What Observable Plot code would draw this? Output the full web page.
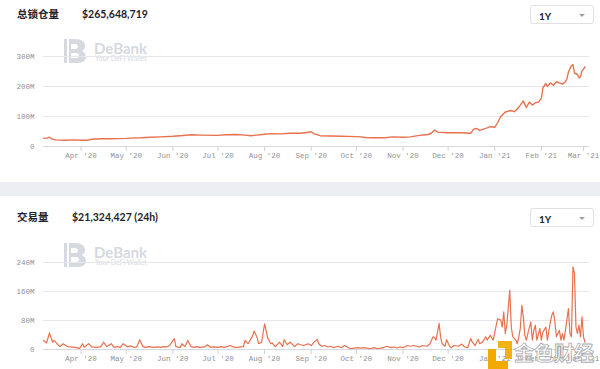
<!DOCTYPE html>
<html>
<head>
<meta charset="utf-8">
<script src="https://cdn.jsdelivr.net/npm/d3@7"></script>
<script src="https://cdn.jsdelivr.net/npm/@observablehq/plot@0.6"></script>
<style>
  html, body { margin: 0; padding: 0; background: #fff; }
  #root { position: relative; width: 600px; height: 369px; overflow: hidden; background: #fff; font-family: Lato, "Noto Sans CJK SC", sans-serif; }
  .abs { position: absolute; }
  .title { font-family: "Noto Sans CJK SC", sans-serif; font-weight: 700; font-size: 10.5px; color: #1f2329; line-height: 1; }
  .value { font-family: Lato, sans-serif; font-weight: 700; font-size: 10.5px; color: #1f2329; line-height: 1; }
  .dropdown { width: 64px; height: 19px; border: 1px solid #dfe1e6; border-radius: 3px; box-sizing: border-box; background: #fff; }
  .dropdown span { position: absolute; left: 8px; top: 4px; font-family: Lato, sans-serif; font-size: 10px; font-weight: 700; color: #222; }
  .caret { position: absolute; right: 8px; top: 8px; width: 0; height: 0; border-left: 3px solid transparent; border-right: 3px solid transparent; border-top: 3px solid #9a9ea6; }
  .band { left: 0; width: 600px; background: #eceef3; }
  .wm-text { font-family: Lato, sans-serif; font-weight: 700; font-size: 15px; color: #d6d9df; line-height: 1; }
  .wm-sub { font-family: Lato, sans-serif; font-size: 7px; color: #d6d9df; line-height: 1; }
  .jinse { font-family: "Noto Sans CJK SC", sans-serif; font-weight: 700; font-size: 20px; color: rgba(255,255,255,0.85); -webkit-text-stroke: 0.8px #a9abb0; line-height: 1; }
</style>
</head>
<body>
<div id="root"></div>
<script>
// ---------------- data ----------------
const tvlDates = ["2020-03-07","2020-03-09","2020-03-11","2020-03-13","2020-03-15","2020-03-21","2020-03-28","2020-04-01","2020-04-05","2020-04-08","2020-04-14","2020-04-21","2020-05-01","2020-05-04","2020-05-11","2020-05-17","2020-05-24","2020-06-01","2020-06-06","2020-06-13","2020-06-19","2020-07-01","2020-07-06","2020-07-13","2020-07-19","2020-07-23","2020-08-01","2020-08-05","2020-08-12","2020-08-18","2020-08-25","2020-08-28","2020-09-01","2020-09-03","2020-09-07","2020-09-14","2020-09-21","2020-10-01","2020-10-04","2020-10-07","2020-10-11","2020-10-20","2020-10-25","2020-11-01","2020-11-06","2020-11-12","2020-11-18","2020-11-20","2020-11-22","2020-11-24","2020-11-30","2020-12-09","2020-12-16","2020-12-18","2020-12-20","2020-12-22","2020-12-27","2020-12-29","2021-01-01","2021-01-03","2021-01-05","2021-01-08","2021-01-12","2021-01-14","2021-01-16","2021-01-18","2021-01-20","2021-01-22","2021-01-24","2021-01-26","2021-01-28","2021-01-30","2021-02-01","2021-02-02","2021-02-04","2021-02-05","2021-02-07","2021-02-09","2021-02-11","2021-02-13","2021-02-15","2021-02-17","2021-02-18","2021-02-19","2021-02-21","2021-02-22","2021-02-23","2021-02-25","2021-02-26","2021-02-27","2021-02-28","2021-03-01","2021-03-02"];
const tvlValues = [28,27,31,24,22,21,22,21,21,24,26,26,27,28,29,31,32,34,36,39,38,37,39,40,38,36,41,43,42,44,44,46,49,42,36,35,34,33,32,30,29,29,32,31,32,37,40,45,55,48,46,46,44,58,60,54,62,66,64,80,100,115,120,116,125,138,152,130,148,138,146,148,160,195,210,200,212,204,216,212,208,216,226,248,270,273,245,240,229,232,252,258,265];

const volDates = ["2020-03-07","2020-03-09","2020-03-11","2020-03-13","2020-03-14","2020-03-16","2020-03-18","2020-03-20","2020-03-23","2020-03-25","2020-03-28","2020-03-31","2020-04-02","2020-04-03","2020-04-06","2020-04-08","2020-04-12","2020-04-14","2020-04-16","2020-04-18","2020-04-21","2020-04-23","2020-04-25","2020-04-27","2020-04-29","2020-05-02","2020-05-04","2020-05-06","2020-05-08","2020-05-10","2020-05-12","2020-05-14","2020-05-16","2020-05-19","2020-05-22","2020-05-24","2020-05-26","2020-05-28","2020-05-30","2020-06-02","2020-06-03","2020-06-06","2020-06-07","2020-06-09","2020-06-11","2020-06-13","2020-06-15","2020-06-17","2020-06-19","2020-06-22","2020-06-24","2020-06-26","2020-06-28","2020-07-01","2020-07-03","2020-07-05","2020-07-07","2020-07-09","2020-07-12","2020-07-14","2020-07-16","2020-07-18","2020-07-19","2020-07-21","2020-07-23","2020-07-24","2020-07-25","2020-07-27","2020-07-28","2020-07-30","2020-08-01","2020-08-03","2020-08-05","2020-08-06","2020-08-08","2020-08-11","2020-08-13","2020-08-14","2020-08-16","2020-08-18","2020-08-21","2020-08-23","2020-08-25","2020-08-27","2020-08-30","2020-09-01","2020-09-03","2020-09-05","2020-09-06","2020-09-08","2020-09-10","2020-09-12","2020-09-14","2020-09-16","2020-09-19","2020-09-21","2020-09-23","2020-09-25","2020-09-27","2020-09-30","2020-10-02","2020-10-04","2020-10-06","2020-10-08","2020-10-10","2020-10-13","2020-10-15","2020-10-17","2020-10-19","2020-10-21","2020-10-24","2020-10-26","2020-10-28","2020-10-30","2020-11-01","2020-11-04","2020-11-06","2020-11-08","2020-11-10","2020-11-12","2020-11-14","2020-11-17","2020-11-19","2020-11-20","2020-11-21","2020-11-22","2020-11-23","2020-11-25","2020-11-26","2020-11-27","2020-11-29","2020-11-30","2020-12-02","2020-12-03","2020-12-05","2020-12-08","2020-12-10","2020-12-12","2020-12-14","2020-12-16","2020-12-17","2020-12-19","2020-12-21","2020-12-22","2020-12-24","2020-12-26","2020-12-27","2020-12-29","2020-12-31","2021-01-02","2021-01-03","2021-01-05","2021-01-06","2021-01-07","2021-01-08","2021-01-09","2021-01-11","2021-01-12","2021-01-13","2021-01-15","2021-01-16","2021-01-17","2021-01-18","2021-01-19","2021-01-20","2021-01-21","2021-01-22","2021-01-23","2021-01-25","2021-01-26","2021-01-27","2021-01-28","2021-01-29","2021-01-31","2021-02-01","2021-02-02","2021-02-04","2021-02-05","2021-02-07","2021-02-08","2021-02-09","2021-02-10","2021-02-11","2021-02-13","2021-02-14","2021-02-15","2021-02-16","2021-02-17","2021-02-19","2021-02-20","2021-02-21","2021-02-22","2021-02-23","2021-02-24","2021-02-25","2021-02-26","2021-02-27","2021-02-28","2021-03-01","2021-03-02"];
const volValues = [25,18,46,20,25,16,8,16,8,7,6,3,16,6,16,7,6,8,20,8,16,6,8,6,16,7,10,6,7,27,8,6,8,6,7,6,8,7,12,30,8,6,16,8,25,8,6,8,6,7,13,6,7,6,8,6,8,11,6,6,7,8,25,16,30,37,51,33,16,20,71,33,16,18,8,20,8,27,13,20,8,16,13,11,16,11,21,28,16,9,11,7,9,5,9,5,11,7,2,4,5,4,5,4,2,5,2,4,5,9,5,7,4,7,5,11,9,11,9,7,11,9,16,26,35,33,26,72,35,16,9,27,9,5,11,9,15,7,5,30,21,11,28,16,21,35,26,39,26,67,85,81,62,104,44,67,164,62,35,26,16,35,58,122,90,39,26,44,76,26,53,67,26,58,26,48,62,26,76,95,104,76,35,53,26,44,26,53,113,44,35,228,210,62,44,67,35,90,35,20];

const monthTicks = ["2020-04-01","2020-05-01","2020-06-01","2020-07-01","2020-08-01","2020-09-01","2020-10-01","2020-11-01","2020-12-01","2021-01-01","2021-02-01","2021-03-01"];
const xDomain = ["2020-03-07","2021-03-05"];
const tvlTicks = [0, 100, 200, 300];
const volTicks = [0, 80, 160, 240];

const titles = { tvl: "总锁仓量", vol: "交易量" };
const headline = { tvl: "$265,648,719", vol: "$21,324,427 (24h)" };

// ---------------- build ----------------
const root = document.getElementById("root");
const parse = d3.utcParse("%Y-%m-%d");
const tvl = tvlDates.map((d, i) => ({date: parse(d), value: tvlValues[i]}));
const vol = volDates.map((d, i) => ({date: parse(d), value: volValues[i]}));
const ticks = monthTicks.map(parse);
const fmt = d3.utcFormat("%b '%y");
const LINE = "#e8714e";

function chart(data, yTicks, opts) {
  return Plot.plot({
    width: 600,
    height: opts.height,
    marginLeft: 43,
    marginRight: 11,
    marginTop: opts.marginTop,
    marginBottom: opts.marginBottom,
    style: {background: "transparent", fontFamily: "'Liberation Mono', 'DejaVu Sans Mono', monospace", fontSize: "7.5px", overflow: "visible"},
    x: {type: "utc", domain: xDomain.map(parse), label: null},
    y: {domain: [0, yTicks[yTicks.length - 1]], label: null},
    marks: [
      Plot.gridY(yTicks, {stroke: "#e5e7ed", strokeOpacity: 1}),
      Plot.ruleY([0], {stroke: "#d6d9e0"}),
      Plot.axisY({ticks: yTicks, tickSize: 0, tickPadding: 9, tickFormat: d => d === 0 ? "0" : d + "M", fill: "#8f9298", label: null}),
      Plot.axisX({ticks: ticks, tickSize: 5, tickPadding: 1, tickFormat: fmt, stroke: "#cfd2d8", fill: "#8f9298", label: null}),
      Plot.lineY(data, {x: "date", y: "value", stroke: LINE, strokeWidth: opts.sw, curve: "linear"})
    ]
  });
}

function place(el, left, top) {
  el.classList.add("abs");
  el.style.left = left + "px";
  el.style.top = top + "px";
  root.appendChild(el);
  return el;
}
function div(cls, html, left, top, extra) {
  const e = document.createElement("div");
  e.className = cls;
  e.innerHTML = html;
  place(e, left, top);
  if (extra) Object.assign(e.style, extra);
  return e;
}
function logo(left, top) {
  const ns = "http://www.w3.org/2000/svg";
  const s = document.createElementNS(ns, "svg");
  s.setAttribute("width", 22); s.setAttribute("height", 24);
  s.innerHTML = '<path d="M0,0 H11 C18,0 21,3 21,7 C21,9 20,11 18,12 C20,13 22,15 22,18 C22,22 18,24 12,24 H0 Z" fill="#d6d9df"/>' +
                '<path d="M7,5 H11 C13,5 14,6 14,7.5 C14,9 13,10 11,10 H7 Z M7,14 H12 C14,14 15,15 15,16.5 C15,18 14,19 12,19 H7 Z" fill="#fff"/>' +
                '<rect x="3" y="0" width="2" height="24" fill="#fff"/>';
  place(s, left, top);
}
function watermark(top) {
  logo(64, top);
  div("wm-text", "DeBank", 94, top + 2);
  div("wm-sub", "Your DeFi Wallet", 95, top + 16);
}

// top panel
div("title", titles.tvl, 17, 9);
div("value", headline.tvl, 82, 9);
div("dropdown", "<span>1Y</span><div class='caret'></div>", 530, 5);
watermark(39);
place(chart(tvl, tvlTicks, {height: 125, marginTop: 16, marginBottom: 19, sw: 1.4}), 0, 40);

// separator
div("band", "", 0, 182, {height: "14px"});

// bottom panel
div("title", titles.vol, 17, 212);
div("value", headline.vol, 72, 212);
div("dropdown", "<span>1Y</span><div class='caret'></div>", 530, 208);
watermark(243);
place(chart(vol, volTicks, {height: 119, marginTop: 12, marginBottom: 20, sw: 1.2}), 0, 250);

// 金色财经 watermark overlay
(function () {
  const ns = "http://www.w3.org/2000/svg";
  const s = document.createElementNS(ns, "svg");
  s.setAttribute("width", 24); s.setAttribute("height", 28);
  s.innerHTML = '<path d="M0,8 H8 V20 H20 V28 H0 Z" fill="#f2a900"/><path d="M10,0 H24 V18 H17 V7 H10 Z" fill="#f2a900" opacity="0.9"/>';
  place(s, 488, 341);
  div("jinse", "金色财经", 514, 343);
})();
</script>
</body>
</html>
